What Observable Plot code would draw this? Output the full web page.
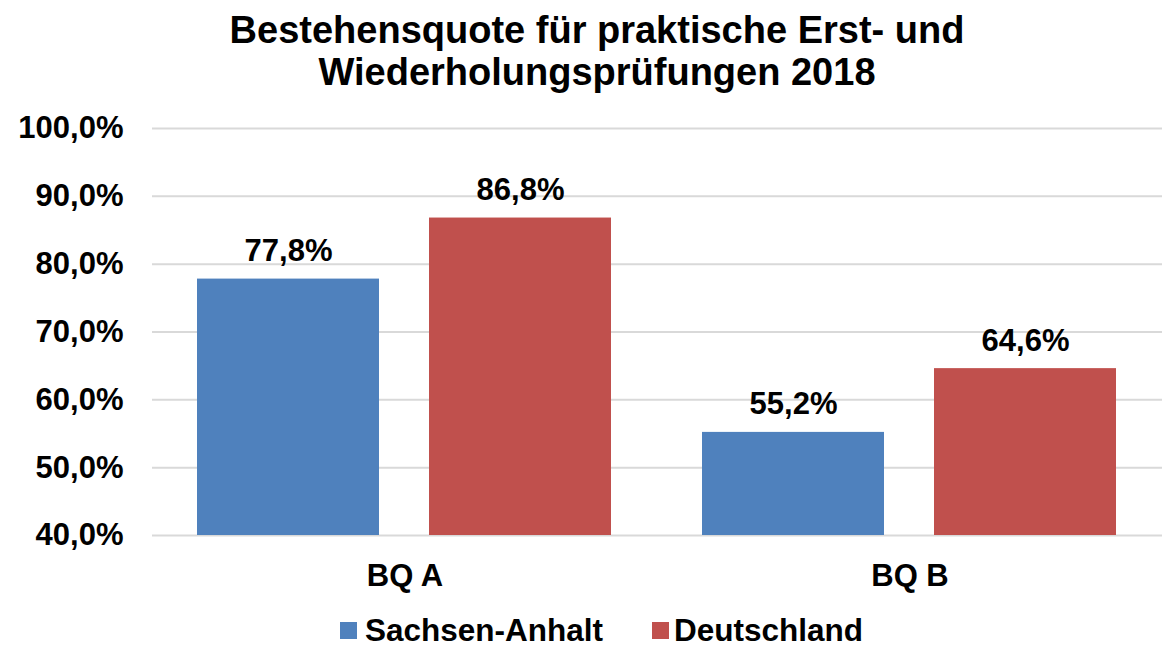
<!DOCTYPE html>
<html>
<head>
<meta charset="utf-8">
<script src="https://cdn.jsdelivr.net/npm/d3@7"></script>
<script src="https://cdn.jsdelivr.net/npm/@observablehq/plot@0.6"></script>
<style>
  html, body { margin: 0; padding: 0; background: #fff; }
  body { width: 1162px; height: 646px; overflow: hidden; font-family: "Liberation Sans", Arial, sans-serif; }
  #title { box-sizing: border-box; padding-top: 9px; padding-left: 32px; text-align: center; font-weight: bold; font-size: 38px; line-height: 42px; color: #000; height: 93px; }
  #legend { display: flex; align-items: center; height: 43px; padding-left: 340px; font-weight: bold; font-size: 31.5px; line-height: 1; color: #000; }
  #legend span { position: relative; top: 6px; }
  .sw { width: 17px; height: 17px; display: inline-block; }
</style>
</head>
<body>
<div id="title">Bestehensquote für praktische Erst- und<br>Wiederholungsprüfungen 2018</div>
<div id="chart"></div>
<div id="legend">
  <span class="sw" style="background:#4F81BD"></span><span style="margin-left:8px">Sachsen-Anhalt</span>
  <span class="sw" style="background:#C0504D;margin-left:49px"></span><span style="margin-left:5px">Deutschland</span>
</div>
<script>
const categories = ["BQ A", "BQ B"];
const series = ["Sachsen-Anhalt", "Deutschland"];
const colors = ["#4F81BD", "#C0504D"];
const sachsenAnhalt = [77.8, 55.2];
const deutschland = [86.8, 64.6];
const yTicks = [40, 50, 60, 70, 80, 90, 100];

const data = [];
categories.forEach((c, i) => {
  data.push({cat: c, series: series[0], value: sachsenAnhalt[i]});
  data.push({cat: c, series: series[1], value: deutschland[i]});
});
const fmt = v => v.toFixed(1).replace(".", ",") + "%";

const chart = Plot.plot({
  width: 1162,
  height: 510,
  marginTop: 35,
  marginBottom: 68,
  marginLeft: 152,
  marginRight: 0,
  style: {fontFamily: "'Liberation Sans', Arial, sans-serif", background: "#fff", color: "#000"},
  fx: {domain: categories, padding: 0},
  x: {domain: series, paddingInner: 0.215, paddingOuter: 0.1925},
  y: {domain: [40, 100]},
  color: {domain: series, range: colors},
  marks: [
    Plot.gridY(yTicks, {stroke: "#d9d9d9", strokeOpacity: 1, strokeWidth: 2}),
    Plot.barY(data, {fx: "cat", x: "series", y1: 40, y2: "value", fill: "series"}),
    Plot.text(data, {fx: "cat", x: "series", y: "value", text: d => fmt(d.value), lineAnchor: "bottom", dy: -18, fontSize: 31, fontWeight: "bold", fill: "#000"}),
    Plot.axisY(yTicks, {tickSize: 0, tickPadding: 29, tickFormat: fmt, fontSize: 31, fontWeight: "bold", label: null}),
    Plot.axisFx({anchor: "bottom", tickSize: 0, tickPadding: 28, fontSize: 31, fontWeight: "bold", label: null}),
    Plot.axisX({ticks: [], label: null, tickSize: 0, tickFormat: () => ""})
  ]
});
document.getElementById("chart").appendChild(chart);
</script>
</body>
</html>
